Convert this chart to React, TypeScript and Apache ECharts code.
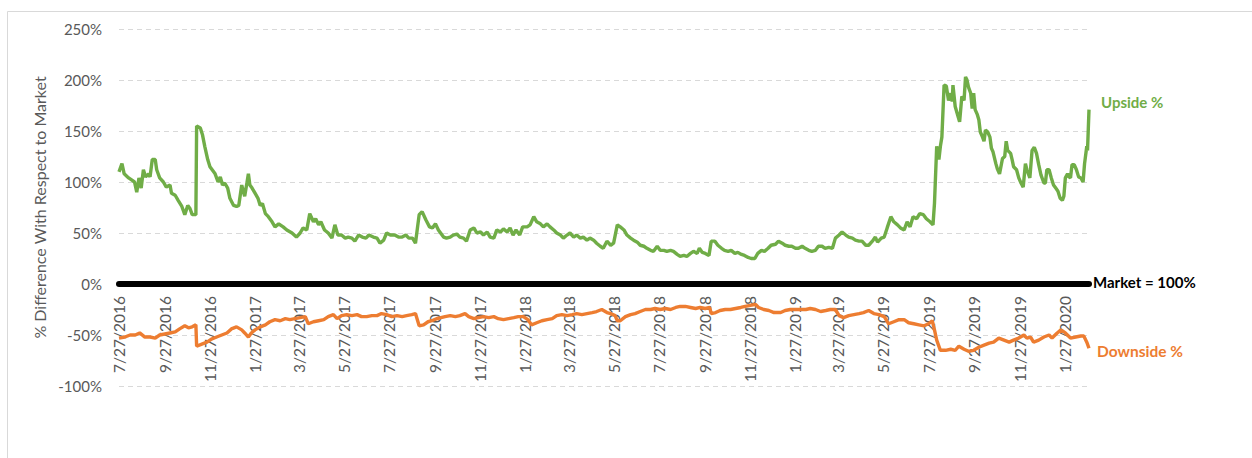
import React, { useEffect, useRef } from "react";
import * as echarts from "echarts";

// x values are days elapsed since 7/27/2016
const START_DATE = "7/27/2016";

const tickDates = [
  "7/27/2016", "9/27/2016", "11/27/2016", "1/27/2017", "3/27/2017", "5/27/2017",
  "7/27/2017", "9/27/2017", "11/27/2017", "1/27/2018", "3/27/2018", "5/27/2018",
  "7/27/2018", "9/27/2018", "11/27/2018", "1/27/2019", "3/27/2019", "5/27/2019",
  "7/27/2019", "9/27/2019", "11/27/2019", "1/27/2020",
];

const LAST_DAY = 1312;

const upside: [number, number][] = [
  [0,110],[4,118],[7,108],[13,104],[17,102],[21,100],[24,90],[27,104],[30,94],[33,112],[36,105],[40,108],[42,105],[45,122],[49,122],[51,112],[55,104],[60,100],[64,95],[69,97],[71,89],[76,87],[80,82],[85,76],[89,68],[93,77],[96,74],[99,68],[104,68],
  [105,155],[110,153],[113,146],[116,135],[120,122],[123,115],[126,112],[130,108],[134,100],[137,105],[140,97],[143,99],[147,94],[150,84],[155,77],[159,76],[162,77],[166,97],[170,86],[173,99],[175,108],[177,97],[180,94],[184,89],[188,84],[191,77],[194,79],[198,69],[202,66],[207,61],[211,56],[216,59],
  [222,56],[227,53],[234,50],[240,46],[245,50],[249,55],[254,53],[258,69],[263,61],[266,64],[270,58],[273,61],[278,53],[283,50],[288,45],[292,58],[296,48],[301,48],[306,45],[310,46],[315,45],[319,42],[324,48],[329,46],[334,45],[338,48],[344,46],[349,45],[353,40],[358,43],[362,50],[367,48],[373,48],[378,46],[383,46],[388,48],[392,45],[397,45],[401,40],
  [406,68],[410,71],[415,63],[420,56],[424,55],[428,59],[432,53],[434,51],[439,46],[443,45],[448,46],[452,48],[457,49],[461,46],[466,45],[470,42],[475,53],[480,55],[484,50],[489,51],[493,48],[498,51],[502,46],[507,45],[511,53],[516,51],[520,54],[525,51],[529,55],[533,48],[537,53],[542,48],[546,56],[552,56],[556,58],
  [561,66],[565,61],[570,59],[574,56],[579,59],[583,56],[588,53],[592,50],[597,48],[601,45],[606,48],[610,50],[615,46],[619,48],[624,45],[628,46],[633,43],[637,45],[642,43],[646,40],[651,37],[655,35],[660,42],[665,38],[669,40],
  [674,58],[678,56],[683,53],[687,48],[692,45],[696,43],[701,41],[705,38],[710,37],[714,35],[719,33],[723,32],[728,37],[732,33],[737,33],[741,32],[746,33],[750,32],[755,29],[759,27],[764,28],[768,27],[773,30],[777,32],[782,30],[785,35],[789,31],[793,30],[798,28],
  [801,42],[806,42],[810,38],[815,35],[819,33],[824,32],[828,33],[833,30],[837,31],[842,29],[846,28],[851,26],[855,25],[860,25],[864,30],[869,33],[873,32],[878,35],[882,38],[888,39],[892,42],[897,40],[901,38],[906,37],[910,37],[915,35],[919,35],[924,37],[928,35],[933,33],[937,32],[942,33],[946,37],[951,37],[955,35],[960,36],[965,35],
  [969,45],[974,48],[978,51],[983,48],[987,46],[992,45],[996,43],[1001,42],[1005,42],[1010,38],[1014,38],[1019,42],[1023,46],[1026,41],[1031,45],[1035,46],[1039,55],[1044,66],[1048,61],[1053,58],[1057,55],[1062,53],[1066,61],[1070,56],[1074,66],[1079,64],[1083,69],[1088,68],[1092,64],[1097,61],[1101,58],
  [1103,79],[1106,135],[1109,122],[1111,135],[1113,144],[1116,195],[1119,194],[1122,180],[1125,187],[1127,179],[1128,195],[1131,174],[1135,164],[1137,159],[1140,184],[1143,180],[1145,203],[1147,200],[1149,193],[1152,187],[1154,172],[1156,187],[1158,171],[1161,166],[1163,161],[1165,149],[1168,144],[1170,140],[1172,151],[1175,149],[1178,144],[1180,133],[1182,130],[1186,118],[1188,113],[1191,108],
  [1195,123],[1198,125],[1200,140],[1202,131],[1206,128],[1208,122],[1210,115],[1214,112],[1217,104],[1220,99],[1223,95],[1226,118],[1228,112],[1232,104],[1235,131],[1238,134],[1241,128],[1244,117],[1247,107],[1251,99],[1253,99],[1255,112],[1258,112],[1261,104],[1264,97],[1267,94],[1270,91],[1273,84],[1276,82],[1278,86],
  [1280,104],[1283,108],[1285,105],[1287,104],[1289,117],[1292,117],[1295,112],[1298,105],[1301,104],[1304,100],[1306,118],[1309,135],[1310,131],[1312,171],
];

const downside: [number, number][] = [
  [0,-53],[8,-52],[15,-50],[22,-50],[28,-48],[35,-52],[42,-52],[49,-53],[55,-50],[62,-49],[69,-48],[76,-47],[82,-44],[89,-41],[94,-43],[99,-42],[104,-40],
  [105,-61],[112,-59],[119,-57],[125,-54],[132,-52],[139,-50],[146,-48],[152,-44],[159,-42],[166,-45],[170,-48],[175,-52],[179,-48],[184,-45],[191,-42],[198,-40],[204,-37],[211,-35],[218,-36],[225,-34],[231,-35],[238,-34],[245,-33],[252,-32],
  [256,-39],[263,-37],[270,-36],[277,-35],[283,-32],[290,-30],[295,-34],[301,-31],[308,-30],[315,-31],[322,-30],[328,-32],[335,-32],[342,-31],[349,-31],[355,-29],[362,-30],[369,-32],[376,-31],[383,-32],[389,-31],[396,-30],[401,-29],
  [406,-41],[412,-40],[418,-37],[423,-36],[430,-34],[441,-32],[448,-31],[455,-32],[461,-31],[468,-29],[473,-32],[480,-34],[486,-33],[493,-32],[500,-33],[507,-32],[513,-34],[520,-35],[527,-34],[534,-33],[540,-32],[547,-32],[553,-35],
  [558,-40],[565,-38],[572,-36],[579,-35],[586,-34],[592,-31],[599,-30],[606,-31],[613,-30],[619,-29],[626,-30],[633,-29],[640,-28],[646,-27],[653,-25],[660,-28],[665,-29],[671,-31],[674,-36],[678,-36],[685,-32],[692,-30],[698,-29],
  [705,-27],[712,-25],[719,-25],[725,-24],[732,-25],[739,-24],[746,-25],[753,-23],[759,-22],[766,-22],[773,-23],[780,-24],[786,-23],[793,-24],[799,-23],
  [801,-29],[807,-28],[813,-26],[820,-25],[827,-25],[834,-24],[841,-23],[847,-22],[854,-21],[861,-20],[865,-23],[872,-25],[879,-26],[886,-28],[895,-28],[901,-26],[908,-25],[915,-25],[922,-25],[929,-25],[935,-24],[942,-25],[949,-27],[956,-26],[962,-25],[969,-25],
  [974,-31],[980,-33],[987,-31],[994,-30],[1001,-29],[1007,-28],[1014,-26],[1021,-29],[1028,-30],[1035,-32],[1041,-39],[1048,-37],[1055,-35],[1062,-35],[1068,-38],[1075,-39],[1082,-40],[1089,-41],[1095,-39],[1100,-36],
  [1103,-45],[1106,-55],[1111,-65],[1118,-65],[1125,-64],[1131,-65],[1136,-61],[1143,-64],[1149,-66],[1156,-65],[1163,-62],[1170,-60],[1177,-58],[1183,-57],[1190,-53],[1197,-55],[1204,-57],[1210,-55],[1217,-53],[1224,-50],[1228,-53],[1233,-52],[1237,-57],[1244,-55],[1251,-52],[1258,-50],[1262,-53],[1269,-48],[1274,-45],[1280,-48],[1287,-53],[1294,-52],[1301,-51],[1305,-51],[1309,-57],[1312,-63],
];

const yTicks = { min: -100, max: 250, interval: 50 };

const GREEN = "#70AD47";
const ORANGE = "#ED7D31";
const GREY = "#595959";
const FONT = "Lato, 'Open Sans', sans-serif";

const GRID = { left: 119, right: 163, top: 29, bottom: 72 };
const CHART_H = 458;

function parseUS(s: string): number {
  const [m, d, y] = s.split("/").map(Number);
  return Date.UTC(y, m - 1, d);
}
function dayOf(s: string): number {
  return Math.round((parseUS(s) - parseUS(START_DATE)) / 86400000);
}

export default function App() {
  const ref = useRef<HTMLDivElement>(null);
  useEffect(() => {
    if (!ref.current) return;
    const chart = echarts.init(ref.current, null, { renderer: "svg" });
    const tickDays = tickDates.map(dayOf);
    const labelOf: Record<number, string> = {};
    tickDays.forEach((d, i) => (labelOf[d] = tickDates[i]));

    // move the date axis (line + labels) up to the 0% level
    const plotH = CHART_H - GRID.top - GRID.bottom;
    const zeroOffset = -plotH * (0 - yTicks.min) / (yTicks.max - yTicks.min);

    chart.setOption({
      animation: false,
      backgroundColor: "#ffffff",
      grid: { ...GRID, containLabel: false, outerBoundsMode: "none" },
      xAxis: {
        type: "value",
        min: 0,
        max: LAST_DAY,
        position: "bottom",
        offset: zeroOffset,
        axisLine: { onZero: false, lineStyle: { color: "#000000", width: 6 } },
        axisTick: { show: false },
        splitLine: { show: false },
        axisLabel: {
          customValues: tickDays,
          rotate: 90,
          margin: 12,
          color: GREY,
          fontSize: 15.5,
          fontFamily: FONT,
          formatter: (v: number) => labelOf[Math.round(v)] ?? "",
        },
      },
      yAxis: {
        type: "value",
        min: yTicks.min,
        max: yTicks.max,
        interval: yTicks.interval,
        name: "% Difference With Respect to Market",
        nameLocation: "middle",
        nameGap: 66,
        nameTextStyle: { color: GREY, fontSize: 16, fontFamily: FONT },
        axisLine: { show: false },
        axisTick: { show: false },
        axisLabel: {
          formatter: "{value}%",
          color: GREY,
          fontSize: 15,
          fontFamily: FONT,
          margin: 17,
        },
        splitLine: { lineStyle: { color: "#d9d9d9", width: 1, type: [5, 4] } },
      },
      series: [
        {
          name: "Upside %",
          type: "line",
          data: upside,
          showSymbol: false,
          lineStyle: { color: GREEN, width: 3.4 },
          itemStyle: { color: GREEN },
        },
        {
          name: "Downside %",
          type: "line",
          data: downside,
          showSymbol: false,
          lineStyle: { color: ORANGE, width: 3.4 },
          itemStyle: { color: ORANGE },
        },
      ],
      graphic: [
        {
          type: "rect",
          z: -10,
          shape: { x: 7.5, y: 11.5, width: 1400, height: 600 },
          style: { fill: "none", stroke: "#d9d9d9", lineWidth: 1 },
        },
        {
          type: "text",
          x: 1101,
          y: 102,
          style: { text: "Upside %", fill: GREEN, font: `bold 15px ${FONT}`, verticalAlign: "middle" },
        },
        {
          type: "text",
          x: 1093,
          y: 282,
          style: { text: "Market = 100%", fill: "#000000", font: `bold 15px ${FONT}`, verticalAlign: "middle" },
        },
        {
          type: "text",
          x: 1097,
          y: 351,
          style: { text: "Downside %", fill: ORANGE, font: `bold 15.5px ${FONT}`, verticalAlign: "middle" },
        },
      ],
    });
    return () => chart.dispose();
  }, []);
  return (
    <div
      ref={ref}
      style={{ position: "fixed", left: 0, top: 0, width: 1252, height: CHART_H, background: "#fff" }}
    />
  );
}
